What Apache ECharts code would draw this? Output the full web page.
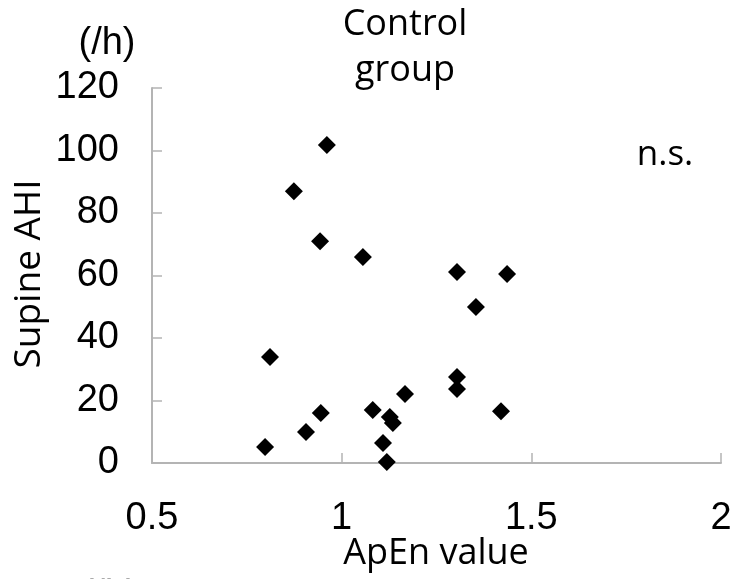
<!DOCTYPE html>
<html>
<head>
<meta charset="utf-8">
<script src="https://cdn.jsdelivr.net/npm/echarts@6/dist/echarts.min.js"></script>
<style>
html,body{margin:0;padding:0;background:#fff;}
#chart{width:737px;height:579px;}
</style>
</head>
<body>
<div id="chart"></div>
<script>
// ApEn value (x) and supine AHI (/h) (y)
const apenValues = [0.961, 0.874, 0.943, 1.056, 1.304, 1.436, 1.354, 0.811, 1.304, 1.304,
                    1.167, 1.082, 1.420, 0.945, 1.127, 1.135, 0.906, 1.109, 0.798, 1.119];
const supineAHI  = [101.8, 87.0, 71.0, 65.9, 61.1, 60.5, 49.9, 33.9, 27.5, 23.7,
                    22.1, 17.0, 16.6, 16.0, 14.7, 12.8, 9.9, 6.4, 5.1, 0.3];
const xTicks = [0.5, 1, 1.5, 2];
const yTicks = [0, 20, 40, 60, 80, 100, 120];

const points = apenValues.map((x, i) => [x, supineAHI[i]]);
const chart = echarts.init(document.getElementById('chart'), null, {renderer: 'canvas'});
const axisGray = '#b4b4b4';
const labelFont = '"Liberation Sans", Arial, sans-serif';
const textFont = '"Open Sans", "Noto Sans", sans-serif';

chart.setOption({
  backgroundColor: '#fff',
  animation: false,
  grid: {left: 152, right: 16, top: 88, bottom: 116, containLabel: false},
  xAxis: {
    type: 'value', min: xTicks[0], max: xTicks[xTicks.length - 1], interval: 0.5,
    axisLine: {show: true, lineStyle: {color: axisGray, width: 2}},
    axisTick: {show: true, inside: true, length: 10, lineStyle: {color: axisGray, width: 1.5}},
    splitLine: {show: false},
    axisLabel: {color: '#000', fontFamily: labelFont, fontSize: 38, margin: 37,
      formatter: v => String(v)}
  },
  yAxis: {
    type: 'value', min: yTicks[0], max: yTicks[yTicks.length - 1], interval: 20,
    axisLine: {show: true, lineStyle: {color: axisGray, width: 2}},
    axisTick: {show: true, inside: true, length: 10, lineStyle: {color: axisGray, width: 1.5}},
    splitLine: {show: false},
    axisLabel: {color: '#000', fontFamily: labelFont, fontSize: 38, margin: 33, padding: [7, 0, 0, 0]}
  },
  series: [{
    type: 'scatter',
    data: points,
    symbol: 'diamond',
    symbolSize: [18, 18],
    itemStyle: {color: '#000', opacity: 1}
  }],
  graphic: [
    {type: 'text', x: 405, y: 25, style: {text: 'Control', font: '36px ' + textFont, fill: '#000', textAlign: 'center', textVerticalAlign: 'middle'}},
    {type: 'text', x: 405, y: 71, style: {text: 'group', font: '36px ' + textFont, fill: '#000', textAlign: 'center', textVerticalAlign: 'middle'}},
    {type: 'text', x: 665, y: 155, style: {text: 'n.s.', font: '35px ' + textFont, fill: '#000', textAlign: 'center', textVerticalAlign: 'middle'}},
    {type: 'text', x: 107, y: 44, style: {text: '(/h)', font: '38px ' + labelFont, fill: '#000', textAlign: 'center', textVerticalAlign: 'middle'}},
    {type: 'text', x: 436, y: 554, style: {text: 'ApEn value', font: '36px ' + textFont, fill: '#000', textAlign: 'center', textVerticalAlign: 'middle'}},
    {type: 'text', x: 29, y: 274, rotation: Math.PI / 2, style: {text: 'Supine AHI', font: '37px ' + textFont, fill: '#000', textAlign: 'center', textVerticalAlign: 'middle'}},
    {type: 'text', x: 110, y: 577, style: {text: '(/h)', font: '38px ' + labelFont, fill: '#aaa', textAlign: 'center', textVerticalAlign: 'top'}}
  ]
});
</script>
</body>
</html>
